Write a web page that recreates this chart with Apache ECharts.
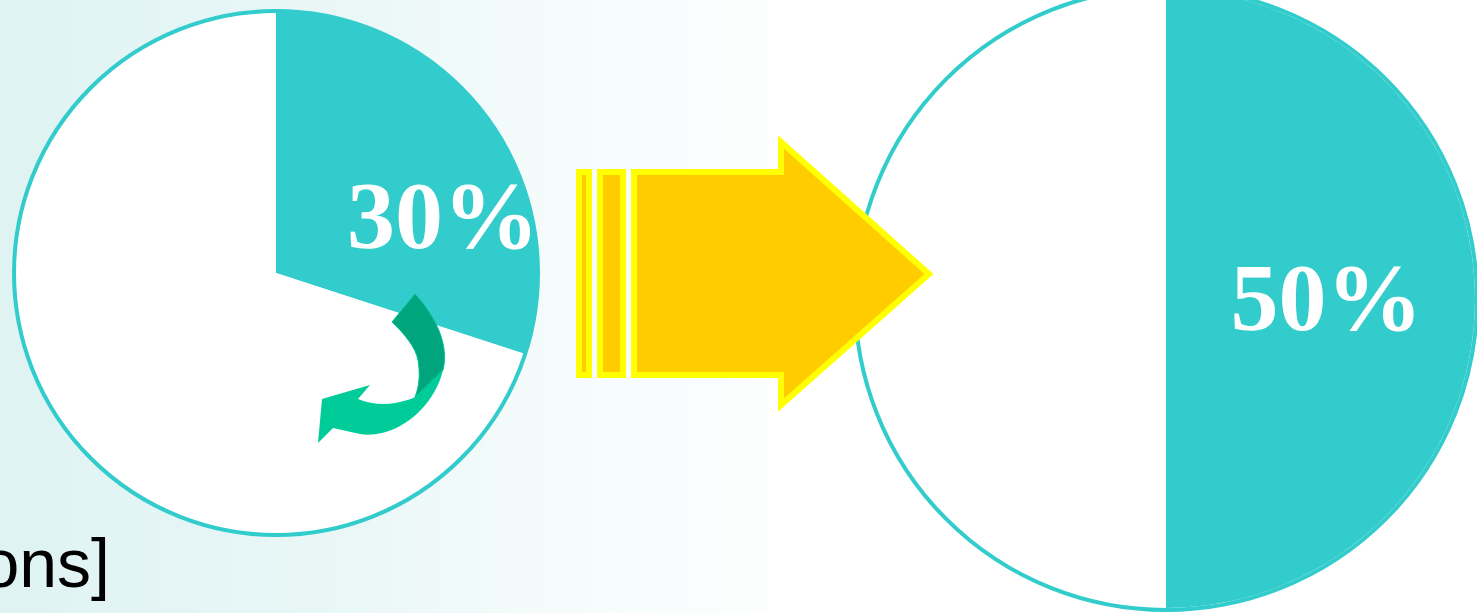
<!DOCTYPE html>
<html>
<head>
<meta charset="utf-8">
<script src="https://cdn.jsdelivr.net/npm/echarts@6/dist/echarts.min.js"></script>
<style>
html,body{margin:0;padding:0;background:#fff;}
#chart{width:1477px;height:613px;}
</style>
</head>
<body>
<div id="chart"></div>
<script>
// Data
const beforeNames = ['Share', 'Rest'];
const beforeValues = [30, 70];
const afterNames = ['Share', 'Rest'];
const afterValues = [50, 50];
const footerText = 'ons]';

const CYAN = '#33CCCC';

function pieData(names, values) {
  return names.map(function (n, i) {
    return {
      name: n,
      value: values[i],
      itemStyle: { color: i === 0 ? CYAN : '#ffffff' },
      label: { show: i === 0 }
    };
  });
}

const labelStyle = {
  position: 'inside',
  rotate: 0,
  formatter: '{d}%',
  color: '#ffffff',
  fontFamily: "'Liberation Serif', 'Times New Roman', serif",
  fontWeight: 'bold',
  fontSize: 96
};

const lightArrowPath = 'M392,322 L415,294 C437,318 449,346 443,370 C437,395 420,415 400,426 C385,434 370,436 360,434 L333,428 L318,443 L322,399 L370,385 L358,399 C370,404 383,405 395,403 C405,401 412,399 415,397 C420,385 420,372 418,360 C416,348 404,333 392,322 Z';
const darkArrowPath = 'M392,322 L415,294 C437,318 449,346 443,370 L415,397 C420,385 420,372 418,360 C416,348 404,333 392,322 Z';

const chart = echarts.init(document.getElementById('chart'), null, { renderer: 'canvas' });
chart.setOption({
  animation: false,
  backgroundColor: '#ffffff',
  graphic: [
    {
      type: 'rect', z: -10, silent: true,
      shape: { x: 0, y: 0, width: 767, height: 613 },
      style: {
        fill: {
          type: 'linear', x: 0, y: 0, x2: 1, y2: 0,
          colorStops: [
            { offset: 0, color: '#dff3f3' },
            { offset: 0.45, color: '#eaf7f7' },
            { offset: 0.72, color: '#f5fbfb' },
            { offset: 1, color: '#fcfefe' }
          ]
        }
      }
    },
    {
      type: 'circle', z: 50, silent: true,
      shape: { cx: 276, cy: 273, r: 262 },
      style: { fill: null, stroke: CYAN, lineWidth: 4 }
    },
    {
      type: 'circle', z: 50, silent: true,
      shape: { cx: 1166, cy: 299, r: 311 },
      style: { fill: null, stroke: CYAN, lineWidth: 4 }
    },
    // yellow block arrow
    {
      type: 'rect', z: 100, silent: true,
      shape: { x: 579, y: 172, width: 10, height: 203 },
      style: { fill: '#FFCC00', stroke: '#FFFF00', lineWidth: 6 }
    },
    {
      type: 'rect', z: 100, silent: true,
      shape: { x: 600, y: 172, width: 23, height: 203 },
      style: { fill: '#FFCC00', stroke: '#FFFF00', lineWidth: 6 }
    },
    {
      type: 'polygon', z: 100, silent: true,
      shape: { points: [[634, 172], [781, 172], [781, 142], [929, 274], [781, 405], [781, 375], [634, 375]] },
      style: { fill: '#FFCC00', stroke: '#FFFF00', lineWidth: 6, lineJoin: 'miter' }
    },
    {
      type: 'text', z: 100, silent: true,
      style: {
        x: 110, y: 568,
        text: footerText,
        align: 'right', verticalAlign: 'middle',
        fill: '#000000',
        fontFamily: "'Liberation Sans', Arial, sans-serif",
        fontSize: 68
      }
    }
  ],
  series: [
    {
      type: 'pie',
      silent: true,
      center: [276, 273],
      radius: [0, 261],
      startAngle: 90,
      clockwise: true,
      avoidLabelOverlap: false,
      itemStyle: { borderWidth: 0 },
      label: Object.assign({}, labelStyle, { offset: [59, 29] }),
      labelLine: { show: false },
      emphasis: { disabled: true },
      data: pieData(beforeNames, beforeValues)
    },
    {
      type: 'pie',
      silent: true,
      center: [1166, 299],
      radius: [0, 309],
      startAngle: 90,
      clockwise: true,
      avoidLabelOverlap: false,
      itemStyle: { borderWidth: 0 },
      label: Object.assign({}, labelStyle, { offset: [3, 6] }),
      labelLine: { show: false },
      emphasis: { disabled: true },
      data: pieData(afterNames, afterValues)
    },
    {
      type: 'custom',
      coordinateSystem: 'none',
      silent: true,
      z: 20,
      data: [0],
      renderItem: function () {
        return {
          type: 'group',
          children: [
            { type: 'path', shape: { pathData: lightArrowPath }, style: { fill: '#00CC99' } },
            { type: 'path', shape: { pathData: darkArrowPath }, style: { fill: '#00A57D', stroke: '#00C795', lineWidth: 1 } }
          ]
        };
      }
    }
  ]
});
</script>
</body>
</html>
